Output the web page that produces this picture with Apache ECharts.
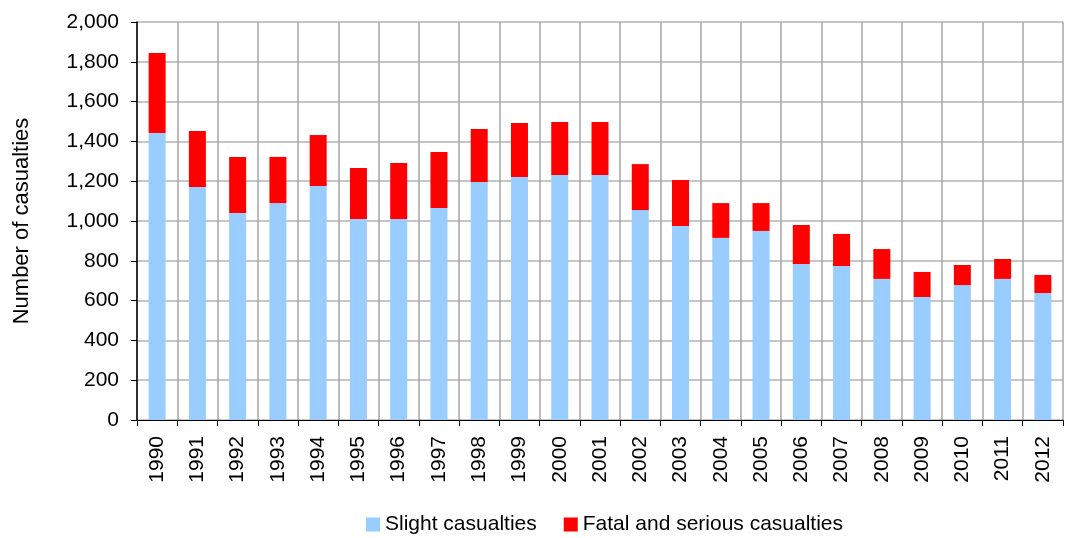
<!DOCTYPE html>
<html>
<head>
<meta charset="utf-8">
<script src="https://cdn.jsdelivr.net/npm/echarts@6/dist/echarts.min.js"></script>
<style>
  html, body { margin: 0; padding: 0; background: #fff; }
  #chart { width: 1065px; height: 538px; }
</style>
</head>
<body>
<div id="chart"></div>
<script>
// years on the x axis
const years = ['1990', '1991', '1992', '1993', '1994', '1995', '1996', '1997', '1998', '1999', '2000', '2001',
  '2002', '2003', '2004', '2005', '2006', '2007', '2008', '2009', '2010', '2011', '2012'];

// slight casualties (blue, bottom of stack)
const slight = [1442, 1171, 1040, 1090, 1176, 1010, 1010, 1065, 1196, 1221, 1231, 1231,
  1055, 975, 915, 950, 784, 774, 709, 618, 678, 709, 638];

// fatal and serious casualties (red, top of stack)
const fatalSerious = [402, 281, 282, 232, 256, 256, 281, 282, 266, 271, 266, 266,
  231, 231, 175, 140, 196, 161, 150, 126, 101, 100, 91];

const yTicks = { min: 0, max: 2000, interval: 200 };

const chart = echarts.init(document.getElementById('chart'));

chart.setOption({
  animation: false,
  textStyle: { fontFamily: 'Liberation Sans, Arial, sans-serif' },
  grid: { left: 137, right: 2, top: 22, bottom: 118 },
  legend: {
    left: 361,
    bottom: -2,
    itemWidth: 14,
    itemHeight: 14,
    itemGap: 27,
    icon: 'rect',
    textStyle: { fontSize: 21, color: '#000' },
    data: ['Slight casualties', 'Fatal and serious casualties']
  },
  xAxis: {
    type: 'category',
    data: years,
    axisLine: { lineStyle: { color: '#000', width: 1 } },
    axisTick: { show: true, length: 6, lineStyle: { color: '#000' } },
    axisLabel: { rotate: 90, fontSize: 21, color: '#000', margin: 16 },
    splitLine: { show: true, lineStyle: { color: '#a6a6a6', width: 1.5 } }
  },
  yAxis: {
    type: 'value',
    min: yTicks.min,
    max: yTicks.max,
    interval: yTicks.interval,
    name: 'Number of casualties',
    nameLocation: 'middle',
    nameGap: 104,
    nameTextStyle: { fontSize: 22, color: '#000' },
    axisLine: { show: true, lineStyle: { color: '#000', width: 1.5 } },
    axisTick: { show: true, length: 6, lineStyle: { color: '#000' } },
    axisLabel: {
      fontSize: 21,
      color: '#000',
      margin: 18,
      formatter: v => v.toLocaleString('en-US')
    },
    splitLine: { show: true, lineStyle: { color: '#c6c6c6', width: 2 } }
  },
  series: [
    {
      name: 'Slight casualties',
      type: 'bar',
      stack: 'total',
      barWidth: 17,
      itemStyle: { color: '#99ccff' },
      data: slight
    },
    {
      name: 'Fatal and serious casualties',
      type: 'bar',
      stack: 'total',
      barWidth: 17,
      itemStyle: { color: '#ff0000' },
      data: fatalSerious
    }
  ]
});
</script>
</body>
</html>
